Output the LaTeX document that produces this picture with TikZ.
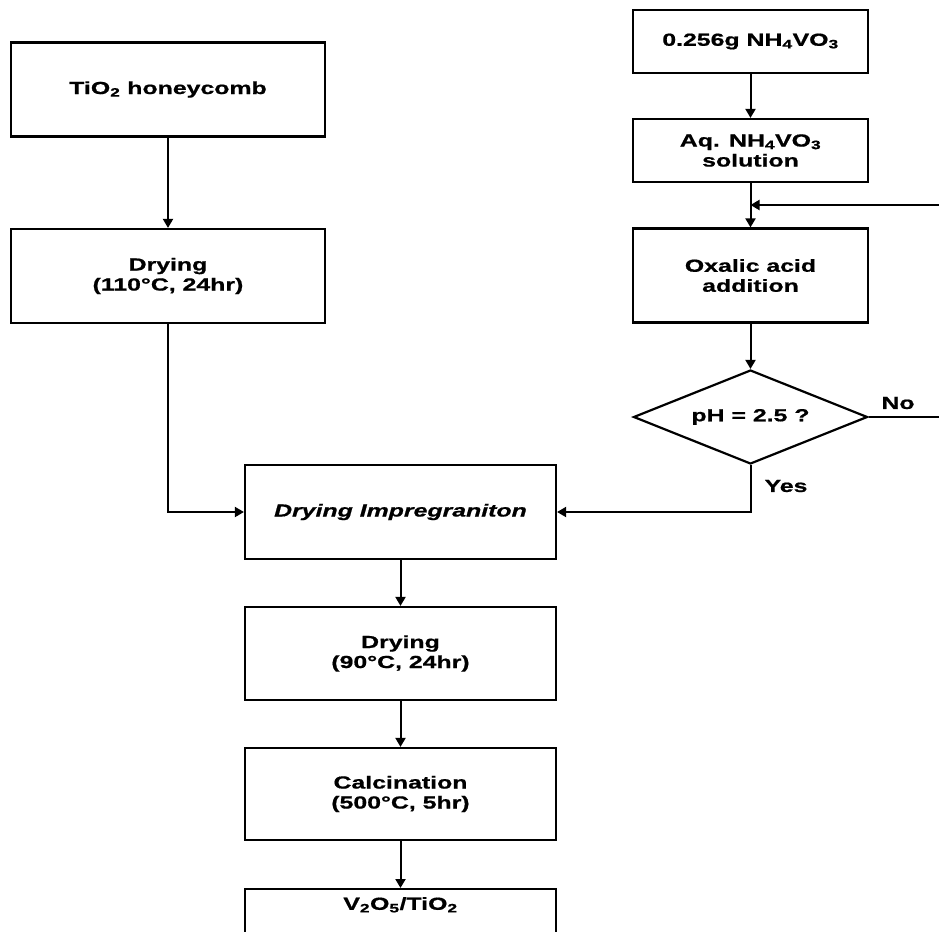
\documentclass[tikz,border=0pt]{standalone}
\usepackage{fontspec}
\setmainfont{Liberation Sans}[FakeStretch=1.42,FakeBold=0.8]
\usetikzlibrary{arrows.meta,shapes.geometric}
\newcommand{\flowfont}{\fontsize{17.5}{20}\selectfont\bfseries}
\tikzset{
  box/.style={draw,line width=2.2pt,minimum width=314pt,minimum height=94pt,
    inner sep=0pt,align=center,font=\flowfont},
  test/.style={draw,diamond,line width=2.2pt,aspect=2.5,inner sep=0pt,
    minimum width=234pt,minimum height=94pt,font=\flowfont},
  tag/.style={font=\flowfont},
  link/.style={line width=2pt},
  flow/.style={link,-{Triangle[width=10pt,length=9pt]}}
}
\begin{document}
\begin{tikzpicture}[x=1pt,y=-1pt]
  \useasboundingbox (0,0) rectangle (939,931);
  %colonna sinistra
  \node[box] (tio) at (168,89.5) {TiO\textsubscript{2} honeycomb};
  \node[box] (dryA) at (168,276) {Drying\\(110°C, 24hr)};
  %colonna destra
  \node[box,minimum width=235pt,minimum height=63pt] (nh) at (750.5,41.5) {0.256g NH\textsubscript{4}VO\textsubscript{3}};
  \node[box,minimum width=235pt,minimum height=63pt] (aq) at (750.5,150.5) {Aq. NH\textsubscript{4}VO\textsubscript{3}\\solution};
  \node[box,minimum width=235pt] (ox) at (750.5,275.5) {Oxalic acid\\addition};
  \node[test] (ph) at (750.5,417) {pH = 2.5 ?};
  %colonna centrale
  \node[box,minimum width=311pt] (imp) at (400.5,512) {\itshape Drying Impregraniton};
  \node[box,minimum width=311pt,minimum height=93pt] (dryB) at (400.5,653.5) {Drying\\(90°C, 24hr)};
  \node[box,minimum width=311pt,minimum height=92pt] (calc) at (400.5,794) {Calcination\\(500°C, 5hr)};
  \node[box,minimum width=311pt,minimum height=0pt,anchor=north,inner ysep=8pt,text depth=60pt] (cat) at (400.5,888) {V\textsubscript{2}O\textsubscript{5}/TiO\textsubscript{2}};
  %bordo destro
  \coordinate (back) at (939,205);
  \coordinate (noend) at (939,417);
  %frecce
  \draw[flow] (tio) -- (dryA);
  \draw[flow] (nh) -- (aq);
  \draw[flow] (aq) -- (ox);
  \draw[flow] (back) -- (back -| aq.south);
  \draw[flow] (ox) -- (ph);
  \draw[link] (ph.east) -- (noend);
  \draw[flow] (ph.south) |- (imp.east);
  \draw[flow] (dryA.south) |- (imp.west);
  \draw[flow] (imp) -- (dryB);
  \draw[flow] (dryB) -- (calc);
  \draw[flow] (calc) -- (cat);
  %etichette
  \node[tag] (no) at (898,403) {No};
  \node[tag] (yes) at (786,486) {Yes};
\end{tikzpicture}
\end{document}
